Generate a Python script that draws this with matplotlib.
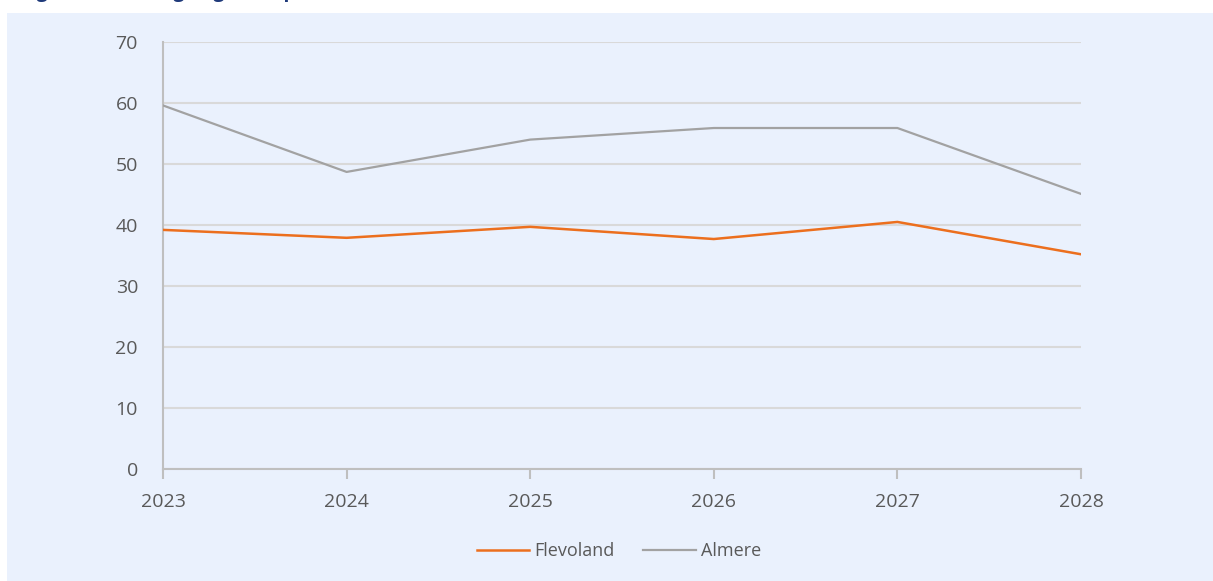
import matplotlib
matplotlib.use("Agg")
import matplotlib.pyplot as plt

years = ["2023", "2024", "2025", "2026", "2027", "2028"]
flevoland = [39.2, 37.9, 39.7, 37.7, 40.5, 35.2]
almere = [59.6, 48.7, 54.0, 55.9, 55.9, 45.1]
yticks = [0, 10, 20, 30, 40, 50, 60, 70]

W, H = 1213, 581
fig = plt.figure(figsize=(W / 100, H / 100), dpi=100)
fig.patch.set_facecolor("white")

bg = "#EAF1FD"
panel = plt.Rectangle((7 / W, 0), 1 - 7 / W, 1 - 13 / H, transform=fig.transFigure,
                      facecolor=bg, edgecolor="none", zorder=-10)
fig.patches.append(panel)

# cut-off title (only descenders visible)
fig.text(20 / W, 1 + 3 / H, "Figuur 8 Werking in gebied per inwoner",
         color="#1F3A7A", fontsize=14, fontweight="bold", family="Open Sans",
         va="baseline", ha="left")

ax = fig.add_axes([163 / W, 1 - 469 / H, (1081 - 163) / W, (469 - 42) / H])
ax.set_facecolor(bg)
x = list(range(len(years)))
ax.plot(x, flevoland, color="#EC6F1E", lw=1.8, label="Flevoland", zorder=3)
ax.plot(x, almere, color="#A2A2A2", lw=1.6, label="Almere", zorder=3)

ax.set_xlim(0, len(years) - 1)
ax.set_ylim(0, 70)
ax.set_yticks(yticks)
ax.set_xticks(x)
ax.set_xticklabels(years)
ax.grid(axis="y", color="#D9D9D9", lw=1.5, zorder=0)
ax.set_axisbelow(True)
for s in ["top", "right"]:
    ax.spines[s].set_visible(False)
for s in ["left", "bottom"]:
    ax.spines[s].set_color("#BFBFBF")
    ax.spines[s].set_linewidth(1.5)
ax.tick_params(axis="y", length=0, pad=18, labelsize=14, labelcolor="#595959")
ax.tick_params(axis="x", length=7, width=1.5, color="#BFBFBF", pad=10,
               labelsize=14, labelcolor="#595959")
for lab in ax.get_xticklabels() + ax.get_yticklabels():
    lab.set_family("Open Sans")

leg = fig.legend(loc="center", bbox_to_anchor=(619 / W, 1 - 551 / H), ncol=2,
                 frameon=False, handlelength=2.9, columnspacing=1.6,
                 handletextpad=0.3, prop={"family": "Open Sans", "size": 13})
for t in leg.get_texts():
    t.set_color("#595959")

fig.savefig("out.png", dpi=100, facecolor="white")
